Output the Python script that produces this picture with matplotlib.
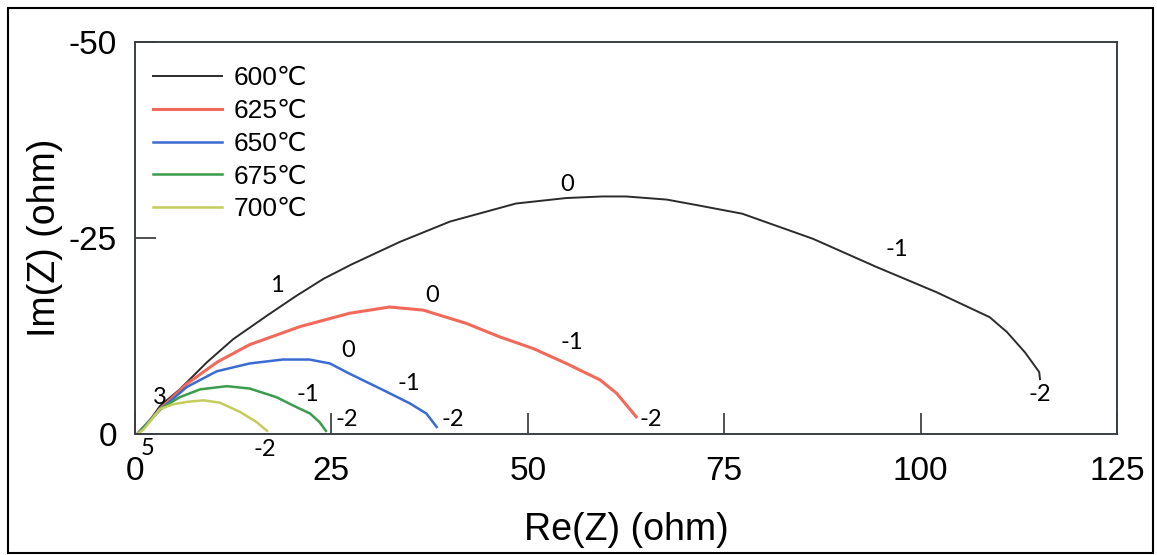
import numpy as np
import matplotlib
matplotlib.use("Agg")
import matplotlib.pyplot as plt
from matplotlib.patches import Rectangle

plt.rcParams['font.family'] = ['Liberation Sans', 'DejaVu Sans']
plt.rcParams['axes.unicode_minus'] = False

labels = ['600℃', '625℃', '650℃', '675℃', '700℃']
colors = ['#2b2b2b', '#f2695a', '#3a6bd2', '#3a9c4c', '#c4cc5c']
widths = [1.4, 2.2, 1.8, 1.8, 1.8]

re_600 = [0.3, 1.5, 3.2, 5.7, 9.1, 12.5, 16.8, 20.5, 24.0, 27.5, 33.7, 40.1, 48.5, 54.9,
          59.5, 62.5, 67.7, 71.5, 77.3, 86.3, 94.4, 102.0, 108.8, 111.0, 113.3, 115.1, 115.2]
im_600 = [0, -1.2, -3.6, -5.7, -9.1, -12.1, -15.1, -17.6, -19.8, -21.6, -24.5, -27.1, -29.4, -30.1,
          -30.3, -30.3, -29.9, -29.2, -28.1, -24.9, -21.3, -18.1, -14.9, -13.0, -10.4, -7.9, -7.0]

re_625 = [0.3, 1.5, 3.2, 6.6, 10.5, 14.6, 21.0, 27.3, 32.4, 36.7, 42.2, 46.4, 50.7, 54.9, 59.2, 61.3, 63.8]
im_625 = [0, -1.3, -3.2, -6.4, -9.2, -11.4, -13.7, -15.4, -16.2, -15.8, -14.1, -12.4, -10.9, -9.0, -6.9, -5.2, -2.2]

re_650 = [0.3, 1.5, 3.2, 6.6, 10.4, 14.6, 18.8, 22.2, 24.8, 27.3, 31.6, 35.0, 37.1, 38.4]
im_650 = [0, -1.3, -3.1, -6.0, -8.0, -9.0, -9.5, -9.5, -9.0, -7.7, -5.6, -3.9, -2.6, -0.9]

re_675 = [0.3, 1.5, 3.2, 5.7, 8.3, 11.7, 14.6, 18.0, 20.2, 22.3, 23.5, 24.3]
im_675 = [0, -1.3, -3.2, -4.7, -5.7, -6.1, -5.8, -4.7, -3.6, -2.6, -1.5, -0.4]

re_700 = [0.3, 1.1, 3.2, 4.9, 6.6, 8.7, 10.8, 13.4, 15.5, 16.8]
im_700 = [0, -0.6, -3.2, -3.8, -4.1, -4.3, -4.0, -2.8, -1.5, -0.4]

# log(frequency) markers along the curves
ann_text = ['1', '0', '-1', '-2', '0', '-1', '-2', '0', '-1', '-2', '-1', '-2', '-2', '3', '5']
ann_x = [18.1, 55.0, 97.0, 115.2, 37.8, 55.6, 65.6, 27.1, 34.9, 40.4, 22.0, 26.9, 16.5, 3.2, 1.6]
ann_y = [-19.0, -31.8, -23.5, -5.0, -17.7, -11.7, -1.8, -10.7, -6.5, -1.8, -5.0, -1.8, 2.0, -4.6, 1.9]

fig = plt.figure(figsize=(11.57, 5.55), dpi=100)
ax = fig.add_axes([0.1167, 0.218, 0.8487, 0.7063])

series = [(re_600, im_600), (re_625, im_625), (re_650, im_650), (re_675, im_675), (re_700, im_700)]
for (xs, ys), c, lw, lab in zip(series, colors, widths, labels):
    ax.plot(xs, ys, color=c, lw=lw, label=lab)

for t, x, y in zip(ann_text, ann_x, ann_y):
    ax.text(x, y, t, fontsize=17, family=['Lato', 'DejaVu Sans'], ha='center', va='center')

ax.set_xlim(0, 125)
ax.set_ylim(0, -50)
ax.set_xticks([0, 25, 50, 75, 100, 125])
ax.set_yticks([-50, -25, 0])
ax.tick_params(direction='in', length=15, width=1.2, labelsize=24, color='#333333')
ax.tick_params(axis='x', pad=16)
ax.tick_params(axis='y', pad=13)
for s in ax.spines.values():
    s.set_color('#3a3f44')
    s.set_linewidth(1.4)

ax.set_xlabel('Re(Z) (ohm)', fontsize=27, labelpad=18)
ax.set_ylabel('Im(Z) (ohm)', fontsize=27, labelpad=4)

ax.legend(loc='upper left', frameon=False, fontsize=19, handlelength=2.6,
          handletextpad=0.45, labelspacing=0.33, borderaxespad=0.3, bbox_to_anchor=(0.0, 0.985))

fig.patches.append(Rectangle((0.007, 0.003), 0.9895, 0.9825, transform=fig.transFigure,
                             fill=False, edgecolor='black', lw=1.5))

fig.savefig('out.png', dpi=100)
